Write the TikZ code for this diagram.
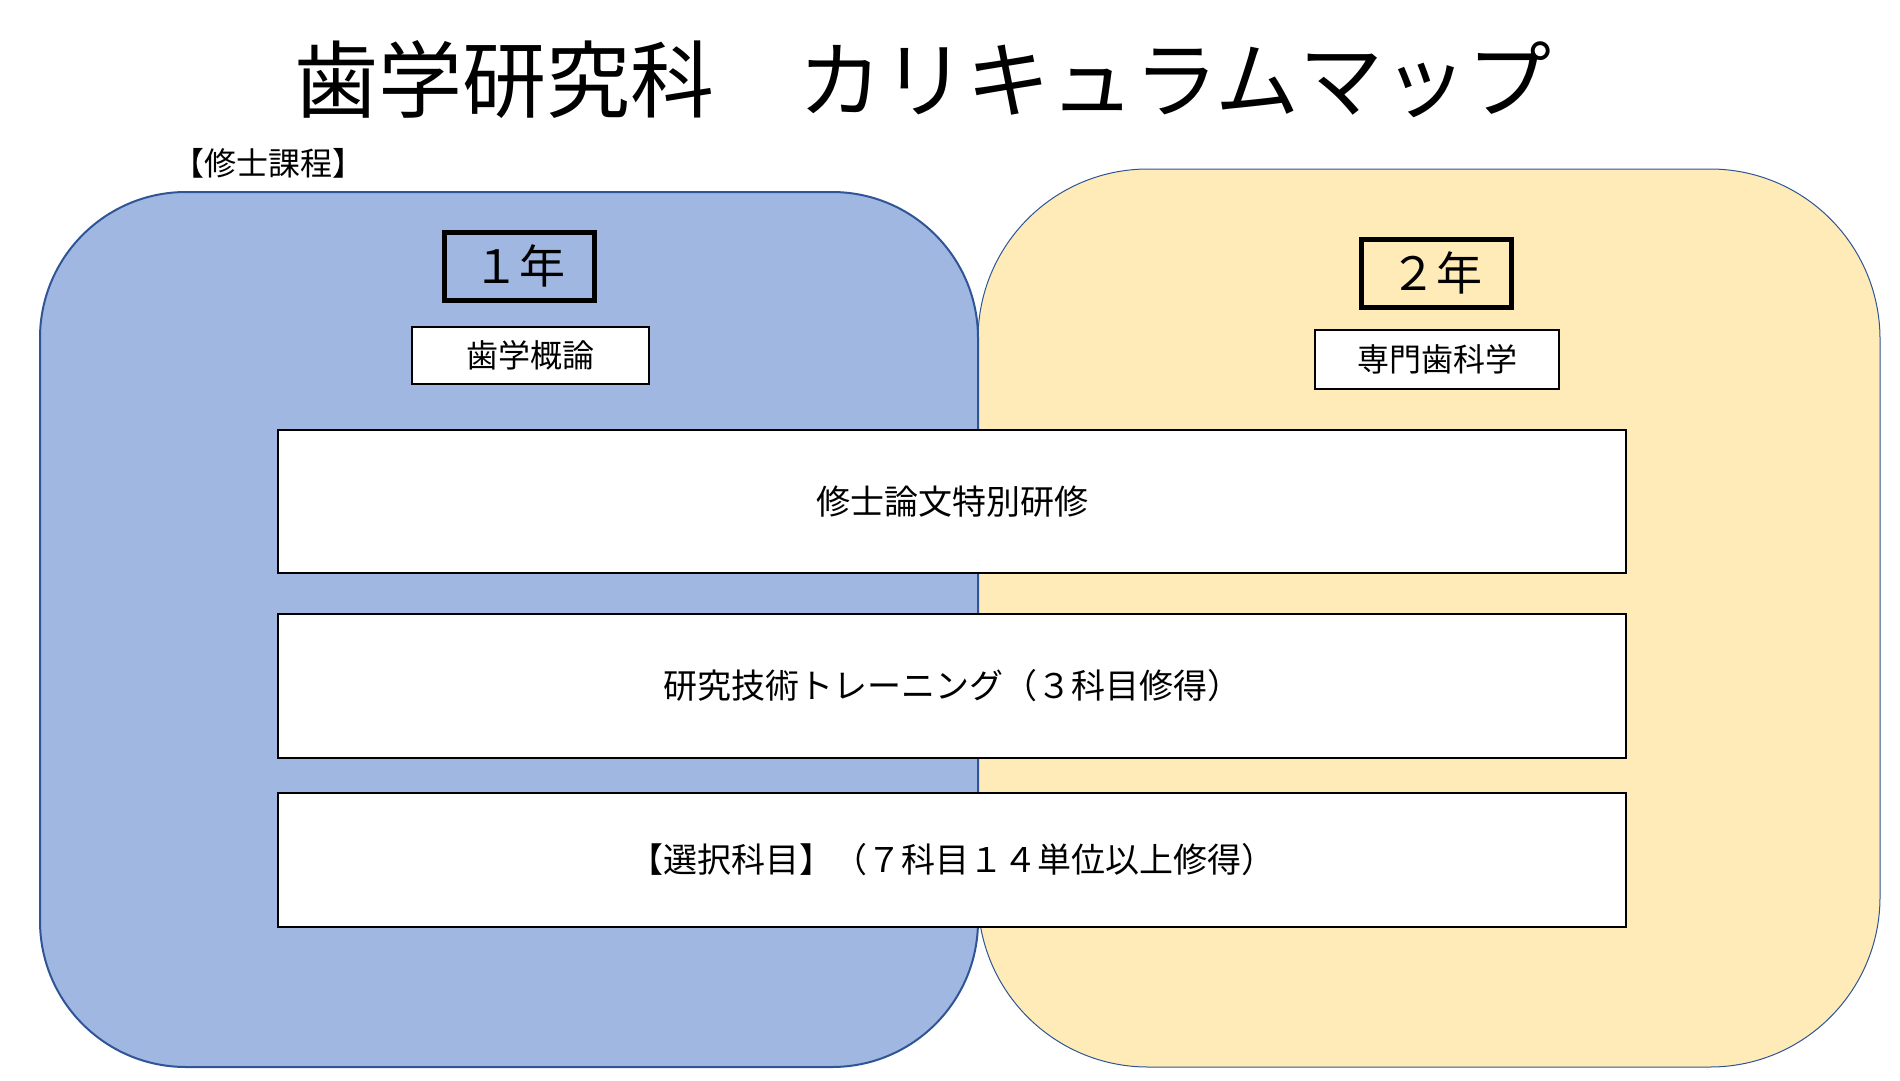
\documentclass[tikz,border=0pt]{standalone}
\usepackage{fontspec}
\setmainfont{Noto Sans CJK JP}
\definecolor{blueyear}{HTML}{A0B7E1}
\definecolor{yellowyear}{HTML}{FFEBB8}
\definecolor{bordblue}{HTML}{2F5597}

\begin{document}
\begin{tikzpicture}[%
        x = 1pt,
        y = -1pt,
        year/.style = {%
            draw = black,
            line width = 5pt,
            minimum width = 150pt,
            minimum height = 68pt,
            inner sep = 0pt,
            font = \fontsize{46}{50}\selectfont
        },
        subject/.style = {%
            draw = black,
            fill = white,
            line width = 1.2pt,
            inner sep = 0pt,
            font = \fontsize{32}{36}\selectfont
        },
        course/.style = {%
            draw = black,
            fill = white,
            line width = 2.2pt,
            minimum width = 1348pt,
            inner sep = 0pt,
            font = \fontsize{34}{38}\selectfont
        }
    ]

        % Fix the page to the size of the reference.
        \useasboundingbox (0, 0) rectangle (1900, 1081);

        % Second year region, drawn first so the first year lies on top.
        \draw[fill = yellowyear, draw = bordblue, line width = 1pt,
              rounded corners = 170pt] (978, 169) rectangle (1880, 1067);

        % First year region.
        \draw[fill = blueyear, draw = bordblue, line width = 2pt,
              rounded corners = 146pt] (40, 192) rectangle (978, 1067);

        % Title and programme label.
        \node[font = \fontsize{84}{90}\selectfont] (title) at (923, 80)
            {歯学研究科　カリキュラムマップ};
        \node[anchor = west, inner sep = 0pt, font = \fontsize{32}{36}\selectfont]
            (master) at (172, 163) {【修士課程】};

        % Year headings.
        \node[year] (yearone) at (519, 266) {１年};
        \node[year] (yeartwo) at (1436, 273) {２年};

        % Subjects belonging to one year only.
        \node[subject, minimum width = 237pt, minimum height = 57pt]
            (intro) at (530.5, 355.5) {歯学概論};
        \node[subject, minimum width = 244pt, minimum height = 59pt]
            (special) at (1437, 359.5) {専門歯科学};

        % Courses spanning both years.
        \node[course, minimum height = 143pt] (thesis) at (952, 501.5)
            {修士論文特別研修};
        \node[course, minimum height = 144pt] (training) at (952, 686)
            {研究技術トレーニング（３科目修得）};
        \node[course, minimum height = 134pt] (elective) at (952, 860)
            {【選択科目】（７科目１４単位以上修得）};
    \end{tikzpicture}
\end{document}
